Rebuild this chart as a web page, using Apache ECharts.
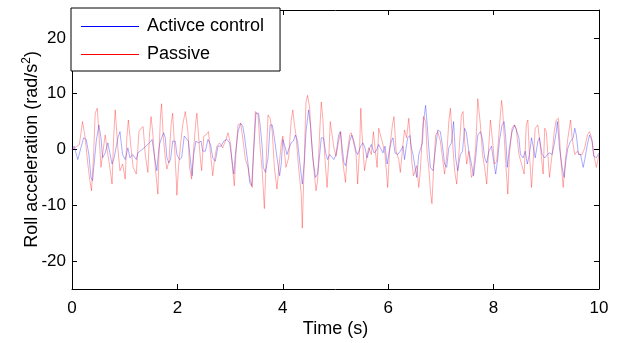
<!DOCTYPE html>
<html>
<head>
<meta charset="utf-8">
<script src="https://cdn.jsdelivr.net/npm/echarts@6/dist/echarts.min.js"></script>
<style>
  html, body { margin: 0; padding: 0; background: #fff; }
  #chart { width: 620px; height: 343px; }
</style>
</head>
<body>
<div id="chart"></div>
<script>
// time stamps (s) and roll acceleration (rad/s^2)
const activeTime = [0.00,0.04,0.11,0.22,0.27,0.32,0.36,0.39,0.46,0.51,0.55,0.58,0.63,0.68,0.71,0.76,0.80,0.87,0.91,0.96,1.01,1.06,1.10,1.15,1.22,1.25,1.29,1.37,1.47,1.52,1.56,1.61,1.63,1.66,1.70,1.74,1.77,1.80,1.84,1.87,1.91,1.96,1.99,2.04,2.08,2.13,2.16,2.21,2.25,2.28,2.31,2.35,2.40,2.45,2.48,2.53,2.58,2.63,2.67,2.72,2.77,2.83,2.88,2.94,2.99,3.03,3.07,3.10,3.15,3.20,3.24,3.27,3.30,3.34,3.37,3.41,3.43,3.46,3.49,3.54,3.57,3.61,3.63,3.67,3.72,3.76,3.80,3.84,3.89,3.94,3.97,4.00,4.03,4.08,4.11,4.16,4.20,4.24,4.28,4.32,4.37,4.41,4.44,4.49,4.53,4.57,4.62,4.66,4.70,4.73,4.77,4.82,4.85,4.89,4.92,4.97,5.01,5.06,5.09,5.12,5.16,5.19,5.23,5.27,5.31,5.35,5.39,5.42,5.48,5.52,5.56,5.60,5.65,5.68,5.73,5.77,5.82,5.85,5.90,5.94,5.98,6.02,6.06,6.09,6.13,6.18,6.23,6.28,6.31,6.34,6.37,6.41,6.44,6.47,6.50,6.54,6.58,6.61,6.65,6.67,6.71,6.74,6.77,6.80,6.85,6.90,6.94,6.99,7.03,7.07,7.11,7.15,7.20,7.24,7.28,7.32,7.37,7.41,7.45,7.48,7.53,7.58,7.62,7.66,7.70,7.75,7.79,7.83,7.87,7.91,7.96,8.00,8.04,8.08,8.11,8.16,8.20,8.23,8.26,8.30,8.35,8.40,8.43,8.48,8.51,8.56,8.60,8.64,8.68,8.72,8.75,8.79,8.84,8.87,8.92,8.97,9.02,9.06,9.11,9.15,9.19,9.21,9.25,9.30,9.34,9.37,9.41,9.46,9.51,9.54,9.57,9.61,9.65,9.70,9.73,9.78,9.82,9.87,9.90,9.95,10.0];
const activeValue = [0.0,0.6,-1.8,2.1,1.8,-0.9,-5.0,-5.6,1.5,4.4,2.1,-1.5,-0.6,1.2,1.5,-2.6,-1.5,2.1,3.2,-0.9,-1.8,0.3,-1.5,-0.9,-1.8,-0.6,-0.3,0.3,1.2,1.8,-0.9,-3.8,-1.6,0.9,2.1,3.0,2.1,-1.5,-2.4,-1.8,1.5,1.5,-0.9,-1.8,-1.5,2.4,2.6,1.5,-2.1,-4.7,-0.9,1.5,1.2,1.5,-0.3,-0.3,1.8,0.9,-1.5,-2.1,0.6,0.6,1.5,1.8,1.2,-1.5,-4.4,-0.9,3.2,4.7,4.2,2.6,0.3,-2.6,-5.9,-6.5,-3.2,1.5,6.5,6.5,4.4,0.3,-3.2,-4.1,-1.5,4.4,4.4,2.1,-1.5,-4.7,-2.6,1.8,0.9,-0.9,0.0,1.2,1.5,2.6,1.5,-2.1,-6.2,-2.1,3.2,7.1,3.8,-1.5,-5.0,-4.4,-0.9,2.1,2.1,-0.9,-1.8,-0.9,-0.6,-1.8,-0.9,2.6,3.2,0.9,-2.4,-2.9,-0.9,1.5,2.6,1.5,-0.3,-0.9,0.6,1.2,0.3,-1.5,0.3,0.9,-0.6,-0.3,0.9,0.3,-0.6,0.6,-2.6,-0.3,1.5,2.1,-0.6,-0.9,-0.3,0.6,-1.8,0.3,2.1,2.5,0.3,-0.9,-2.6,-5.0,-0.9,-0.9,1.2,5.0,7.9,4.4,0.3,-3.2,-3.8,0.3,3.5,3.2,0.6,-2.6,-3.2,0.3,1.2,5.0,-1.5,-3.8,-0.9,-0.3,3.8,3.2,-0.3,-2.6,-4.7,-1.5,2.6,3.2,1.8,-1.5,-2.4,-0.3,0.6,-2.1,-4.4,-1.5,1.5,4.4,5.0,2.1,-3.2,0.3,3.2,4.4,4.1,2.1,-0.9,-1.5,-0.3,-2.6,-0.9,2.1,0.6,-1.5,1.5,2.1,-0.9,-1.5,-0.9,-0.6,-0.9,0.9,3.2,5.0,0.3,-3.2,-5.0,-2.1,0.3,1.5,2.1,3.8,2.6,-0.9,-0.9,-3.2,-1.8,0.9,2.6,1.5,-1.2,-1.5,-0.6];

const passiveTime = [0.00,0.14,0.20,0.25,0.30,0.34,0.37,0.41,0.44,0.48,0.52,0.55,0.58,0.63,0.68,0.71,0.76,0.79,0.82,0.87,0.91,0.96,1.01,1.04,1.07,1.12,1.16,1.22,1.27,1.31,1.35,1.39,1.44,1.47,1.50,1.53,1.58,1.63,1.65,1.68,1.70,1.73,1.77,1.80,1.84,1.88,1.91,1.94,1.98,1.99,2.02,2.06,2.10,2.15,2.20,2.23,2.27,2.31,2.35,2.37,2.40,2.44,2.46,2.50,2.54,2.59,2.63,2.67,2.70,2.75,2.80,2.86,2.91,2.96,3.01,3.05,3.08,3.11,3.15,3.20,3.24,3.29,3.34,3.37,3.42,3.44,3.48,3.53,3.57,3.61,3.65,3.68,3.72,3.76,3.80,3.84,3.89,3.92,3.97,4.00,4.06,4.11,4.16,4.19,4.22,4.25,4.30,4.35,4.37,4.41,4.44,4.47,4.51,4.54,4.58,4.63,4.66,4.70,4.73,4.76,4.79,4.84,4.87,4.90,4.93,4.97,5.01,5.06,5.10,5.12,5.16,5.19,5.22,5.27,5.30,5.35,5.39,5.42,5.46,5.48,5.50,5.55,5.59,5.63,5.68,5.72,5.75,5.79,5.82,5.85,5.90,5.94,5.99,6.03,6.08,6.11,6.15,6.20,6.23,6.28,6.31,6.35,6.39,6.42,6.45,6.48,6.54,6.58,6.61,6.65,6.67,6.71,6.74,6.77,6.80,6.83,6.86,6.90,6.94,6.99,7.03,7.07,7.11,7.15,7.18,7.22,7.26,7.30,7.34,7.39,7.42,7.45,7.49,7.53,7.58,7.61,7.66,7.70,7.75,7.79,7.83,7.87,7.91,7.94,7.98,8.02,8.06,8.10,8.15,8.17,8.21,8.24,8.27,8.30,8.35,8.39,8.43,8.48,8.53,8.58,8.62,8.65,8.68,8.72,8.75,8.79,8.84,8.89,8.94,8.97,9.00,9.03,9.06,9.11,9.15,9.19,9.23,9.27,9.32,9.36,9.41,9.46,9.49,9.54,9.59,9.63,9.68,9.73,9.78,9.82,9.86,9.90,9.95,10.0];
const passiveValue = [0.0,0.9,5.0,2.1,-2.6,-5.6,-7.4,-0.9,6.5,7.4,1.5,-3.2,-0.9,2.6,-0.9,-2.6,-6.2,2.1,7.1,0.3,-3.8,-2.6,-5.3,2.1,5.3,0.3,-3.2,-4.4,3.2,3.8,4.1,-0.9,-4.1,2.6,5.9,3.2,-3.2,-8.0,-0.9,6.2,8.2,2.6,-1.5,-3.5,-2.1,4.4,6.5,1.5,-5.6,-8.2,-3.2,0.9,4.4,6.8,3.2,-3.2,-5.3,0.3,5.0,6.5,2.6,-2.1,-3.8,2.4,2.6,3.2,-0.9,-4.7,-2.1,0.6,1.2,0.3,1.5,3.0,0.9,-3.8,-6.5,-0.9,4.4,4.7,2.1,-1.8,-3.2,-5.0,-6.8,-0.9,6.8,6.2,0.3,-3.8,-10.6,-3.2,6.2,5.6,3.2,-3.2,-7.1,-3.8,0.9,2.4,-3.2,-1.5,5.3,7.1,4.4,2.6,-3.2,-8.0,-14.1,-0.9,8.5,9.7,7.4,2.1,-2.6,-7.4,-5.6,3.2,8.5,5.6,-0.3,-6.8,-2.1,5.0,5.3,0.3,-1.2,1.5,3.2,-0.6,-3.8,-5.9,-0.9,2.6,3.0,0.9,-0.9,-6.2,0.9,7.4,3.2,-3.8,-1.5,0.3,-0.9,3.2,0.3,-3.2,3.8,3.8,0.9,-0.9,-6.8,0.3,4.4,5.9,-0.3,-1.8,-4.1,0.9,3.5,2.1,5.6,2.1,-2.4,-4.7,-2.9,-6.8,-3.8,3.2,5.9,5.0,-0.9,-3.2,-7.4,-9.7,-3.8,2.6,3.2,1.5,-1.5,-4.4,-1.2,5.0,7.4,1.5,-3.8,-6.2,-0.9,6.2,6.8,1.5,-2.6,-0.3,-5.0,-4.4,0.3,9.1,4.4,-0.9,-3.2,-6.2,0.9,5.3,1.5,-2.6,-2.1,2.6,8.8,7.4,0.9,-3.8,-8.0,-0.9,3.8,4.4,3.8,-0.9,-2.6,-4.4,4.4,5.3,-0.9,-6.8,-2.1,3.8,4.4,0.3,-4.4,3.8,3.2,-0.9,-5.0,-0.9,3.2,5.3,5.6,-0.9,-6.8,-2.1,2.1,5.3,2.1,-0.9,-0.3,-0.9,-0.9,0.3,2.6,3.2,2.1,-0.9,-3.2,-0.9];

const xTicks = [0, 2, 4, 6, 8, 10];
const yTicks = [-20, -10, 0, 10, 20];

const chart = echarts.init(document.getElementById('chart'));

const font = 'Liberation Sans, Arial, sans-serif';
const axisBase = {
  axisLine: { show: true, onZero: false, lineStyle: { color: '#000', width: 1 } },
  axisTick: { show: true, inside: true, length: 5, lineStyle: { color: '#000' } },
  splitLine: { show: false }
};

const option = {
  backgroundColor: '#fff',
  animation: false,
  grid: { left: 72, right: 21, top: 10, bottom: 50 },
  legend: {
    orient: 'vertical',
    left: 71,
    top: 8,
    padding: [8.5, 16, 6.5, 10],
    itemGap: 8,
    itemWidth: 58,
    itemHeight: 1,
    icon: 'rect',
    backgroundColor: '#fff',
    borderColor: '#000',
    borderWidth: 1,
    borderRadius: 0,
    textStyle: { fontFamily: font, fontSize: 18, color: '#000', padding: [0, 0, 0, 3], lineHeight: 20 },
    data: [
      {
        name: 'Activce control',
        itemStyle: { color: '#0000ff', opacity: 1 },
        lineStyle: { color: '#0000ff', width: 1, opacity: 1 }
      },
      {
        name: 'Passive',
        itemStyle: { color: '#ff0000', opacity: 1 },
        lineStyle: { color: '#ff0000', width: 1, opacity: 1 }
      }
    ]
  },
  xAxis: [
    {
      ...axisBase,
      type: 'value',
      min: 0,
      max: 10,
      interval: 2,
      name: 'Time (s)',
      nameLocation: 'middle',
      nameGap: 31,
      nameMoveOverlap: false,
      nameTextStyle: { fontFamily: font, fontSize: 18, color: '#000' },
      axisLabel: { fontFamily: font, fontSize: 17, color: '#000', margin: 11, customValues: xTicks },
      axisTick: { ...axisBase.axisTick, customValues: xTicks }
    },
    {
      ...axisBase,
      type: 'value',
      position: 'top',
      min: 0,
      max: 10,
      interval: 2,
      axisLabel: { show: false },
      axisTick: { ...axisBase.axisTick, customValues: xTicks }
    }
  ],
  yAxis: [
    {
      ...axisBase,
      type: 'value',
      min: -25,
      max: 25,
      name: 'Roll acceleration (rad/s{sup|2})',
      nameLocation: 'middle',
      nameGap: 29,
      nameMoveOverlap: false,
      nameTextStyle: {
        fontFamily: font, fontSize: 18, color: '#000', lineHeight: 22,
        rich: { sup: { fontFamily: font, fontSize: 12, color: '#000', verticalAlign: 'top', lineHeight: 12 } }
      },
      axisLabel: { fontFamily: font, fontSize: 17, color: '#000', margin: 6, customValues: yTicks },
      axisTick: { ...axisBase.axisTick, customValues: yTicks }
    },
    {
      ...axisBase,
      type: 'value',
      position: 'right',
      min: -25,
      max: 25,
      axisLabel: { show: false },
      axisTick: { ...axisBase.axisTick, customValues: yTicks }
    }
  ],
  series: [
    {
      name: 'Activce control',
      type: 'line',
      symbol: 'none',
      color: '#0000ff',
      lineStyle: { color: 'rgba(0, 0, 255, 0.33)', width: 1 },
      data: activeTime.map((t, i) => [t, activeValue[i]]),
      z: 2
    },
    {
      name: 'Passive',
      type: 'line',
      symbol: 'none',
      color: '#ff0000',
      lineStyle: { color: 'rgba(255, 0, 0, 0.33)', width: 1 },
      data: passiveTime.map((t, i) => [t, passiveValue[i]]),
      z: 3
    }
  ]
};

chart.setOption(option);
</script>
</body>
</html>
